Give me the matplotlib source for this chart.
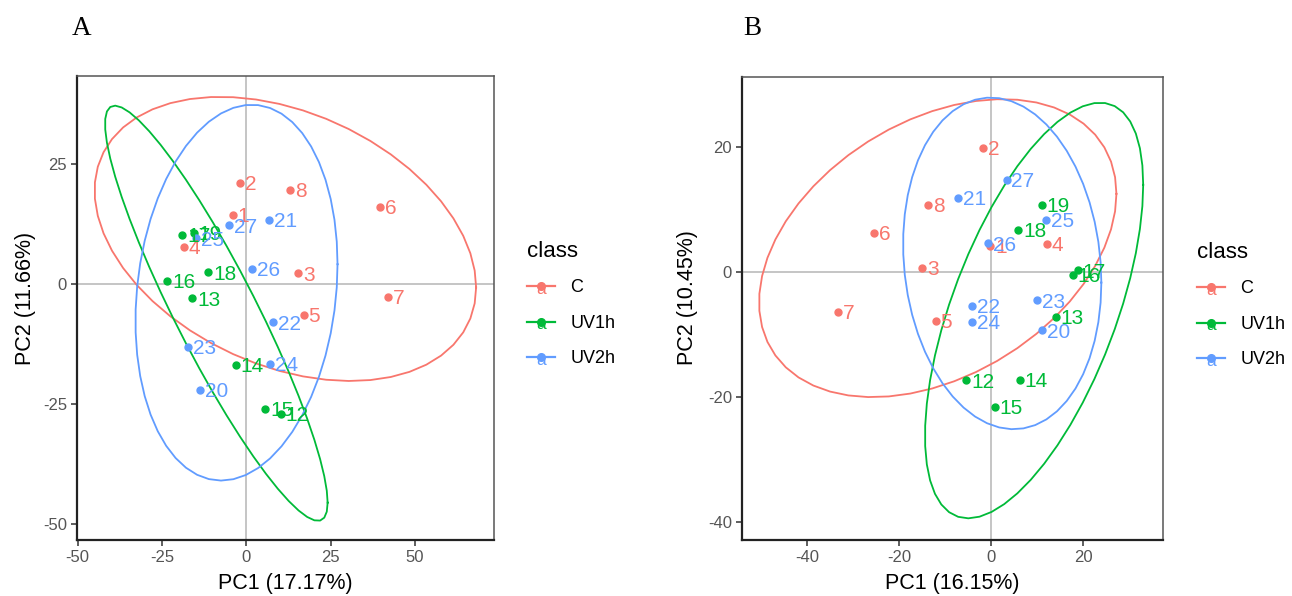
import numpy as np
import matplotlib
matplotlib.use("Agg")
import matplotlib.pyplot as plt
from matplotlib.lines import Line2D
from matplotlib.text import Text
from matplotlib.legend_handler import HandlerBase

plt.rcParams['font.family'] = ['Liberation Sans', 'DejaVu Sans']
plt.rcParams['axes.unicode_minus'] = False

# ---------------- data ----------------
classes = ["C", "UV1h", "UV2h"]
class_colors = ["#F8766D", "#00BA38", "#619CFF"]

# Panel A  (PC1 17.17 %, PC2 11.66 %)
a_C_ids = [1, 2, 3, 4, 5, 6, 7, 8]
a_C_pc1 = [-4.1, -2.0, 15.3, -18.5, 17.0, 39.7, 42.0, 13.0]
a_C_pc2 = [14.4, 21.0, 2.2, 7.8, -6.5, 16.1, -2.7, 19.5]
a_UV1_ids = [12, 13, 14, 15, 16, 17, 18, 19]
a_UV1_pc1 = [10.2, -16.1, -3.1, 5.6, -23.5, -19.0, -11.3, -15.6]
a_UV1_pc2 = [-27.1, -3.0, -16.9, -26.0, 0.6, 10.2, 2.4, 10.6]
a_UV2_ids = [20, 21, 22, 23, 24, 25, 26, 27]
a_UV2_pc1 = [-13.8, 6.8, 7.8, -17.4, 7.1, -14.9, 1.6, -5.2]
a_UV2_pc2 = [-22.1, 13.4, -8.0, -13.1, -16.7, 9.5, 3.2, 12.2]

# Panel B  (PC1 16.15 %, PC2 10.45 %)
b_C_ids = [1, 2, 3, 4, 5, 6, 7, 8]
b_C_pc1 = [-0.2, -1.8, -14.9, 12.2, -12.0, -25.5, -33.3, -13.7]
b_C_pc2 = [4.2, 19.8, 0.7, 4.5, -7.8, 6.3, -6.4, 10.7]
b_UV1_ids = [12, 13, 14, 15, 16, 17, 18, 19]
b_UV1_pc1 = [-5.4, 14.1, 6.2, 0.8, 17.8, 18.9, 5.9, 11.0]
b_UV1_pc2 = [-17.3, -7.2, -17.2, -21.5, -0.4, 0.3, 6.8, 10.7]
b_UV2_ids = [20, 21, 22, 23, 24, 25, 26, 27]
b_UV2_pc1 = [11.1, -7.1, -4.1, 10.1, -4.2, 12.0, -0.6, 3.4]
b_UV2_pc2 = [-9.3, 11.9, -5.4, -4.5, -8.0, 8.3, 4.6, 14.8]

panel_titles = ["A", "B"]
x_labels = ["PC1 (17.17%)", "PC1 (16.15%)"]
y_labels = ["PC2 (11.66%)", "PC2 (10.45%)"]
x_ticks = [[-50, -25, 0, 25, 50], [-40, -20, 0, 20]]
y_ticks = [[-50, -25, 0, 25], [-40, -20, 0, 20]]


# ---------------- helpers ----------------
def cov_trob(x, nu=5, maxit=25, tol=0.01):
    n, p = x.shape
    wt = np.ones(n)
    loc = x.mean(axis=0)
    w = np.sqrt(wt)
    X = x - loc
    for _ in range(maxit):
        w0 = w
        X = x - loc
        _, d, vt = np.linalg.svd(np.sqrt(w / w.sum())[:, None] * X, full_matrices=False)
        wX = X @ vt.T @ np.diag(1.0 / d)
        Q = (wX ** 2).sum(axis=1)
        w = wt * (nu + p) / (nu + Q)
        loc = (w[:, None] * x).sum(axis=0) / w.sum()
        if np.all(np.abs(w - w0) < tol):
            break
    sw = np.sqrt(w)[:, None] * X
    cov = sw.T @ sw / wt.sum()
    return cov, loc


def ellipse_pts(xs, ys, level=0.95, segments=51):
    data = np.column_stack([xs, ys])
    n = len(xs)
    dfd = n - 1
    fq = dfd / 2.0 * ((1 - level) ** (-2.0 / dfd) - 1)   # qf(level, 2, dfd)
    radius = np.sqrt(2 * fq)
    cov, center = cov_trob(data)
    L = np.linalg.cholesky(cov)
    ang = np.arange(segments + 1) * 2 * np.pi / segments
    circ = np.column_stack([np.cos(ang), np.sin(ang)])
    e = center + radius * (circ @ L.T)
    return e[:, 0], e[:, 1]


class KeyHandler(HandlerBase):
    def create_artists(self, legend, orig_handle, xdescent, ydescent,
                       width, height, fontsize, trans):
        c = orig_handle.get_color()
        y = height / 2.0 - ydescent
        x0 = -xdescent
        line = Line2D([x0, x0 + width], [y, y], color=c, lw=1.6, transform=trans)
        txt = Text(x0 + width / 2.0, y - 2.5, 'a', color=c, ha='center', va='center',
                   fontsize=12.5, transform=trans)
        dot = Line2D([x0 + width / 2.0], [y], marker='o', ms=5.5, color=c,
                     lw=0, transform=trans)
        return [line, txt, dot]


# ---------------- figure ----------------
fig = plt.figure(figsize=(12.92, 5.96), dpi=100)
W, H = 1292.0, 596.0
ax_boxes = [(76.7, 494.0, 76.0, 540.0), (741.7, 1163.0, 77.0, 540.0)]
xlims = [(-50.3, 73.4), (-54.2, 37.4)]
ylims = [(-53.3, 43.3), (-42.8, 31.2)]
title_pos = [(72, 35), (743, 35)]
legend_pos = [(527, 241), (1197, 242)]
ylabel_x = [25, 688]

panels = [
    [(a_C_ids, a_C_pc1, a_C_pc2), (a_UV1_ids, a_UV1_pc1, a_UV1_pc2), (a_UV2_ids, a_UV2_pc1, a_UV2_pc2)],
    [(b_C_ids, b_C_pc1, b_C_pc2), (b_UV1_ids, b_UV1_pc1, b_UV1_pc2), (b_UV2_ids, b_UV2_pc1, b_UV2_pc2)],
]

for k in range(2):
    l, r, t, b = ax_boxes[k]
    ax = fig.add_axes([l / W, 1 - b / H, (r - l) / W, (b - t) / H])
    ax.axhline(0, color='#B5B5B5', lw=1.1, zorder=1)
    ax.axvline(0, color='#B5B5B5', lw=1.1, zorder=1)
    handles = []
    for g, (ids, xs, ys) in enumerate(panels[k]):
        col = class_colors[g]
        ex, ey = ellipse_pts(np.array(xs), np.array(ys))
        ax.plot(ex, ey, color=col, lw=1.3, zorder=2)
        ax.plot(xs, ys, 'o', color=col, ms=5, lw=0, zorder=3)
        for i, xv, yv in zip(ids, xs, ys):
            ax.annotate(str(i), (xv, yv), xytext=(3.5, -1.2), textcoords='offset points',
                        ha='left', va='center', color=col, fontsize=15, zorder=4)
        handles.append(Line2D([], [], color=col, label=classes[g]))
    ax.set_xlim(*xlims[k])
    ax.set_ylim(*ylims[k])
    ax.set_xticks(x_ticks[k])
    ax.set_yticks(y_ticks[k])
    ax.tick_params(axis='both', direction='out', length=4, width=1.1, color='#333333',
                   labelsize=12, labelcolor='#555555', pad=3)
    for s in ['top', 'right']:
        ax.spines[s].set_color('#555555')
        ax.spines[s].set_linewidth(1.1)
    for s in ['left', 'bottom']:
        ax.spines[s].set_color('#222222')
        ax.spines[s].set_linewidth(1.6)
    ax.set_xlabel(x_labels[k], fontsize=15.5, labelpad=6)
    ax.set_ylabel(y_labels[k], fontsize=15.5)
    ax.yaxis.set_label_coords(ylabel_x[k] / W, 0.5, transform=fig.transFigure)
    ax.yaxis.label.set_verticalalignment('center')
    fig.text(title_pos[k][0] / W, 1 - title_pos[k][1] / H, panel_titles[k],
             family=['Liberation Serif', 'DejaVu Serif'], fontsize=19.5,
             ha='left', va='baseline')
    leg = fig.legend(handles=handles, loc='upper left',
                     bbox_to_anchor=(legend_pos[k][0] / W, 1 - legend_pos[k][1] / H),
                     frameon=False, title='class', title_fontsize=16, fontsize=13,
                     handler_map={Line2D: KeyHandler()}, handlelength=1.55,
                     handleheight=1.3, labelspacing=0.88, handletextpad=0.85,
                     alignment='left', borderaxespad=0, borderpad=0)
    leg._legend_box.sep = 10

fig.savefig("out.png", dpi=100)
